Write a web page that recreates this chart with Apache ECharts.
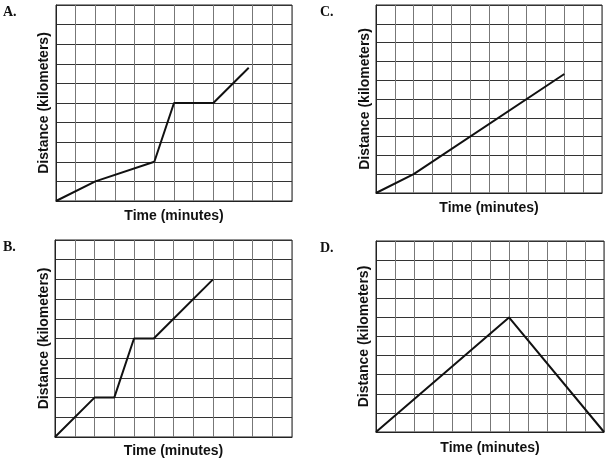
<!DOCTYPE html>
<html>
<head>
<meta charset="utf-8">
<title>Distance vs time</title>
<script src="https://cdn.jsdelivr.net/npm/echarts@6/dist/echarts.min.js"></script>
<style>
  html, body { margin: 0; padding: 0; background: #fff; }
  #main { width: 608px; height: 460px; }
</style>
</head>
<body>
<div id="main"></div>
<script>
// grid size in squares (time x distance)
var gridCols = 12;
var gridRows = 10;

// panel labels and axis titles
var panelLabels = ['A.', 'C.', 'B.', 'D.'];
var xTitle = 'Time (minutes)';
var yTitle = 'Distance (kilometers)';

// each graph, in grid squares: [time, distance]
var pointsA = [[0, 0], [2, 1], [5, 2], [6, 5], [8, 5], [9.8, 6.8]];
var pointsC = [[0, 0], [2, 1], [10, 6.33]];
var pointsB = [[0, 0], [2, 2], [3, 2], [4, 5], [5, 5], [8, 8]];
var pointsD = [[0, 0], [7, 6], [12, 0]];

var allPoints = [pointsA, pointsC, pointsB, pointsD];

// layout of the four panels (pixels)
var grids = [
    { left: 56, top: 5, width: 236, height: 196, xGap: 8, yGap: 5, lx: 3, ly: 5 },
    { left: 376, top: 5, width: 226, height: 188, xGap: 8, yGap: 4, lx: 320, ly: 5 },
    { left: 55, top: 240, width: 237, height: 197, xGap: 7, yGap: 4, lx: 3, ly: 240 },
    { left: 376, top: 241, width: 228, height: 191, xGap: 9, yGap: 5, lx: 320, ly: 241 }
];

var titleFont = { fontFamily: 'Liberation Sans', fontWeight: 'bold', fontSize: 14, color: '#111' };

var myChart = echarts.init(document.getElementById('main'));

var option = {
    backgroundColor: '#fff',
    animation: false,
    title: [],
    grid: [],
    xAxis: [],
    yAxis: [],
    series: []
};

grids.forEach(function (g, i) {
    option.title.push({
        text: panelLabels[i],
        left: g.lx,
        top: g.ly,
        padding: 0,
        textStyle: { fontFamily: 'Liberation Serif', fontWeight: 'bold', fontSize: 14, color: '#111' }
    });
    option.grid.push({
        left: g.left, top: g.top, width: g.width, height: g.height,
        show: true, borderColor: '#222', borderWidth: 1, backgroundColor: '#fff'
    });
    option.xAxis.push({
        type: 'value', gridIndex: i, min: 0, max: gridCols, interval: 1,
        name: xTitle, nameLocation: 'middle', nameGap: g.xGap,
        nameTextStyle: titleFont,
        axisLine: { lineStyle: { color: '#222', width: 1 } },
        axisTick: { show: false },
        axisLabel: { show: false },
        splitLine: { show: true, lineStyle: { color: '#777', width: 1 } }
    });
    option.yAxis.push({
        type: 'value', gridIndex: i, min: 0, max: gridRows, interval: 1,
        name: yTitle, nameLocation: 'middle', nameGap: g.yGap,
        nameTextStyle: titleFont,
        axisLine: { show: true, lineStyle: { color: '#222', width: 1 } },
        axisTick: { show: false },
        axisLabel: { show: false },
        splitLine: { show: true, lineStyle: { color: '#333', width: 1 } }
    });
    option.series.push({
        type: 'line',
        xAxisIndex: i,
        yAxisIndex: i,
        data: allPoints[i],
        showSymbol: false,
        lineStyle: { color: '#111', width: 2 },
        z: 5
    });
});

myChart.setOption(option);
</script>
</body>
</html>
